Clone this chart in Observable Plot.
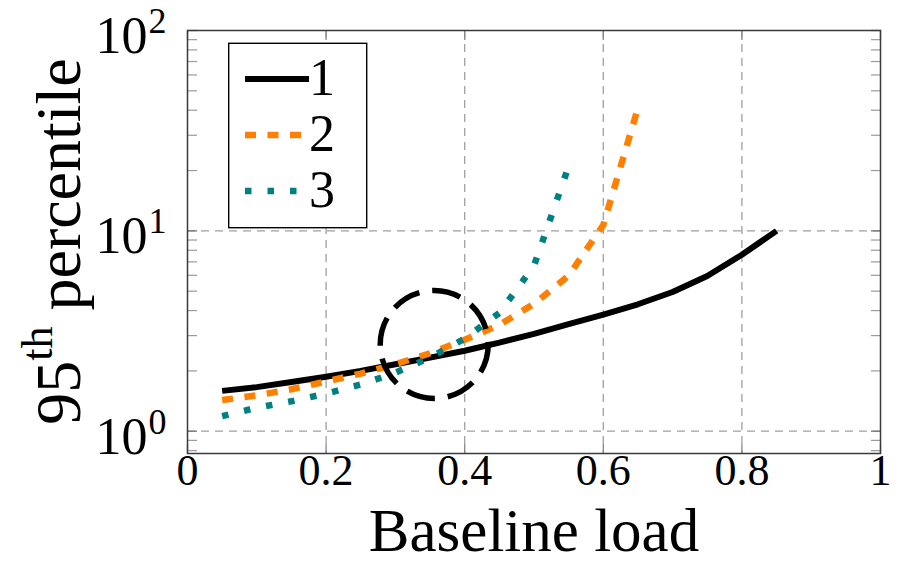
<!DOCTYPE html>
<html>
<head>
<meta charset="utf-8">
<script src="https://cdn.jsdelivr.net/npm/d3@7"></script>
<script src="https://cdn.jsdelivr.net/npm/@observablehq/plot@0.6"></script>
<style>
  html, body { margin: 0; padding: 0; background: #fff; }
  #chart svg { display: block; }
</style>
</head>
<body>
<div id="chart"></div>
<script>
// ---- data ----
const seriesNames = ["1", "2", "3"];
const seriesColors = ["#000000", "#ff8000", "#008080"];

const load1 = [0.05, 0.10, 0.15, 0.20, 0.25, 0.30, 0.35, 0.40, 0.45, 0.50, 0.55, 0.60, 0.65, 0.70, 0.75, 0.80, 0.85];
const p95_1 = [1.59, 1.66, 1.76, 1.87, 2.00, 2.16, 2.33, 2.52, 2.77, 3.06, 3.42, 3.82, 4.30, 4.95, 5.95, 7.60, 10.0];

const load2 = [0.05, 0.10, 0.15, 0.20, 0.25, 0.30, 0.35, 0.40, 0.45, 0.50, 0.55, 0.60, 0.65];
const p95_2 = [1.43, 1.51, 1.62, 1.77, 1.94, 2.16, 2.45, 2.86, 3.39, 4.32, 5.98, 10.7, 41.0];

const load3 = [0.05, 0.10, 0.15, 0.20, 0.25, 0.30, 0.35, 0.40, 0.45, 0.50, 0.55];
const p95_3 = [1.19, 1.31, 1.41, 1.54, 1.71, 1.96, 2.33, 2.90, 3.89, 6.70, 21.0];

const xTicks = [0, 0.2, 0.4, 0.6, 0.8, 1];
const xTickLabels = ["0", "0.2", "0.4", "0.6", "0.8", "1"];
const xGrid = [0.2, 0.4, 0.6, 0.8];
const yTicks = [1, 10, 100];
const yTickExponents = ["0", "1", "2"];
const yGrid = [1, 10];
const yMinor = [0.8, 0.9, 2, 3, 4, 5, 6, 7, 8, 9, 20, 30, 40, 50, 60, 70, 80, 90];

// highlighted region (dashed circle) centre, in data units
const highlightLoad = [0.356];
const highlightP95 = [2.71];

const xLabel = "Baseline load";

// ---- tables built from the arrays ----
const rows1 = load1.map((x, i) => ({x, v: p95_1[i]}));
const rows2 = load2.map((x, i) => ({x, v: p95_2[i]}));
const rows3 = load3.map((x, i) => ({x, v: p95_3[i]}));
const xTickRows = xTicks.map((v, i) => ({v, label: xTickLabels[i]}));
const yTickRows = yTicks.map((v, i) => ({v, e: yTickExponents[i]}));
const highlight = highlightLoad.map((x, i) => ({x, v: highlightP95[i]}));

const gridStyle = {stroke: "#a0a0a0", strokeOpacity: 1, strokeWidth: 1.3, strokeDasharray: "8,6"};
const FONT = "'Liberation Serif', 'DejaVu Serif', serif";

const chart = Plot.plot({
  width: 901,
  height: 573,
  marginLeft: 187,
  marginRight: 21,
  marginTop: 30,
  marginBottom: 120,
  style: {fontFamily: FONT, background: "white", color: "black"},
  x: {domain: [0, 1], axis: null},
  y: {type: "log", domain: [0.774, 100], axis: null},
  marks: [
    Plot.gridX(xGrid, gridStyle),
    Plot.gridY(yGrid, gridStyle),
    // minor ticks (inside, both sides)
    Plot.axisY(yMinor, {anchor: "left", tickSize: -10, fill: "none", stroke: "#9a9a9a", strokeWidth: 1.2, label: null}),
    Plot.axisY(yMinor, {anchor: "right", tickSize: -10, fill: "none", stroke: "#9a9a9a", strokeWidth: 1.2, label: null}),
    // major ticks
    Plot.axisY(yTicks, {anchor: "left", tickSize: -10, fill: "none", stroke: "#777", strokeWidth: 1.3, label: null}),
    Plot.axisY(yTicks, {anchor: "right", tickSize: -10, fill: "none", stroke: "#777", strokeWidth: 1.3, label: null}),
    Plot.axisX(xTicks, {anchor: "bottom", tickSize: -9, fill: "none", stroke: "#888", strokeWidth: 1.3, label: null}),
    Plot.axisX(xTicks, {anchor: "top", tickSize: -9, fill: "none", stroke: "#888", strokeWidth: 1.3, label: null}),
    // series
    Plot.line(rows1, {x: "x", y: "v", stroke: seriesColors[0], strokeWidth: 6, strokeLinecap: "butt", strokeLinejoin: "round"}),
    Plot.line(rows2, {x: "x", y: "v", stroke: seriesColors[1], strokeWidth: 6.5, strokeDasharray: "11,11.5", strokeLinecap: "butt", strokeLinejoin: "miter"}),
    Plot.line(rows3, {x: "x", y: "v", stroke: seriesColors[2], strokeWidth: 6.5, strokeDasharray: "6.5,16", strokeLinecap: "butt", strokeLinejoin: "miter"}),
    // dashed circle highlighting the crossing
    Plot.dot(highlight, {x: "x", y: "v", r: 54, fill: "none", stroke: "black", strokeWidth: 5.5, strokeDasharray: "29,13"}),
    Plot.frame({stroke: "#3a3a3a", strokeWidth: 1.5}),
    // tick labels
    Plot.text(xTickRows, {x: "v", text: "label", frameAnchor: "bottom", dy: 31, fontSize: 44}),
    Plot.text(yTickRows, {y: "v", text: () => "10", frameAnchor: "left", textAnchor: "end", dx: -40, dy: 6, fontSize: 52}),
    Plot.text(yTickRows, {y: "v", text: "e", frameAnchor: "left", textAnchor: "start", dx: -39, dy: -9, fontSize: 36}),
    // x axis label
    Plot.text([xLabel], {frameAnchor: "bottom", dy: 97, fontSize: 61})
  ]
});

document.getElementById("chart").appendChild(chart);

// y axis label with superscript
const svg = d3.select(chart);
const yl = svg.append("text")
  .attr("transform", "translate(80,241.5) rotate(-90)")
  .attr("text-anchor", "middle")
  .attr("font-family", FONT)
  .attr("font-size", 64)
  .attr("fill", "black");
yl.append("tspan").text("95");
yl.append("tspan").attr("dy", -28).attr("font-size", 44).text("th");
yl.append("tspan").attr("dy", 28).text("\u00a0percentile");

// legend box
const lg = svg.append("g").attr("font-family", FONT);
lg.append("rect").attr("x", 228.7).attr("y", 43.3).attr("width", 138).attr("height", 184.4)
  .attr("fill", "white").attr("stroke", "black").attr("stroke-width", 1.4);
const legendStyles = [
  {w: 6, dash: null},
  {w: 6.5, dash: "11,11.5"},
  {w: 6.5, dash: "6.5,16"}
];
seriesNames.forEach((name, i) => {
  const y = 79 + i * 56;
  const l = lg.append("line").attr("x1", 245).attr("x2", 309).attr("y1", y).attr("y2", y)
    .attr("stroke", seriesColors[i]).attr("stroke-width", legendStyles[i].w);
  if (legendStyles[i].dash) l.attr("stroke-dasharray", legendStyles[i].dash);
  lg.append("text").attr("x", 322).attr("y", y + 16).attr("font-size", 52).attr("fill", "black").text(name);
});
</script>
</body>
</html>
